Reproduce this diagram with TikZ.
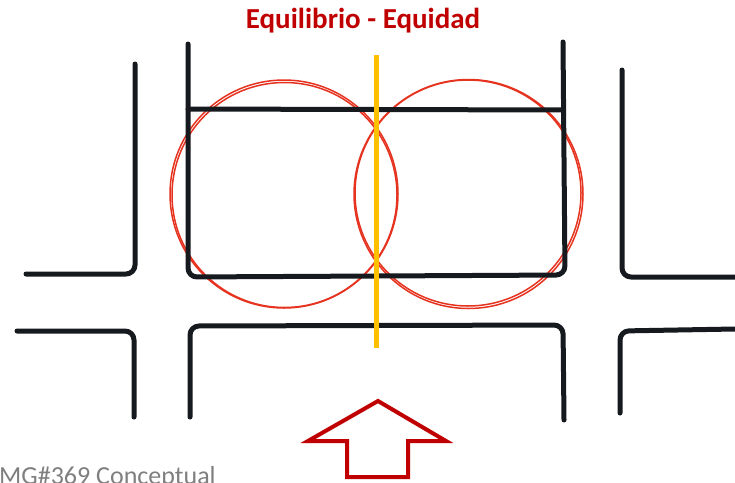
\documentclass[tikz,border=0pt]{standalone}
\usepackage{fontspec}
\setmainfont{Carlito}
\definecolor{ink}{HTML}{161A1F}
\definecolor{ringred}{HTML}{E5331F}
\definecolor{titlered}{HTML}{C00000}
\definecolor{axis}{HTML}{FFC000}
\definecolor{capgray}{HTML}{7F7F7F}
\begin{document}
\begin{tikzpicture}[x=1pt,y=-1pt,
  street/.style={draw=ink, line width=5pt, line cap=round, line join=round, rounded corners=9pt},
  ring/.style={draw=ringred, line width=1.5pt},
  axisline/.style={draw=axis, line width=5pt},
  arrowbox/.style={draw=titlered, line width=4pt, line join=miter}]
\useasboundingbox (0,0) rectangle (735,482);
% title
\node[text=titlered, font=\fontsize{29}{32}\selectfont\bfseries, anchor=base] (title) at (363,28) {Equilibrio - Equidad};
% caption (cut at bottom, as in the reference)
\node[text=capgray, font=\fontsize{26}{30}\selectfont, anchor=base west, inner sep=0pt] (caption) at (-1,484) {MG\#369 Conceptual};
% red circles
\draw[ring] (284,194) circle [radius=114];
\draw[ring] (284.5,195) circle [radius=112.5];
\draw[ring] (468.5,194) circle [radius=114.5];
\draw[ring] (468,193) circle [radius=113];
% streets left
\draw[street] (135,64) -- (135,274) -- (26,274);
\draw[street] (17,331) -- (134,331) -- (134,417);
% central block top
\draw[street] (188,44) -- (188,277) -- (565,275) -- (563,42);
\draw[street, rounded corners=0pt] (188,109) -- (563,110);
% central block bottom
\draw[street] (190,417) -- (190,326) -- (563,325) -- (564,420);
% streets right
\draw[street] (622,70) -- (622,277) -- (735,277);
\draw[street] (735,329) -- (620,331) -- (620,413);
% yellow axis
\draw[axisline] (376,55) -- (376,348);
% arrow
\draw[arrowbox] (378,401) -- (446,441) -- (408,441) -- (408,477) -- (347,477) -- (347,441) -- (308,441) -- cycle;
\end{tikzpicture}
\end{document}
